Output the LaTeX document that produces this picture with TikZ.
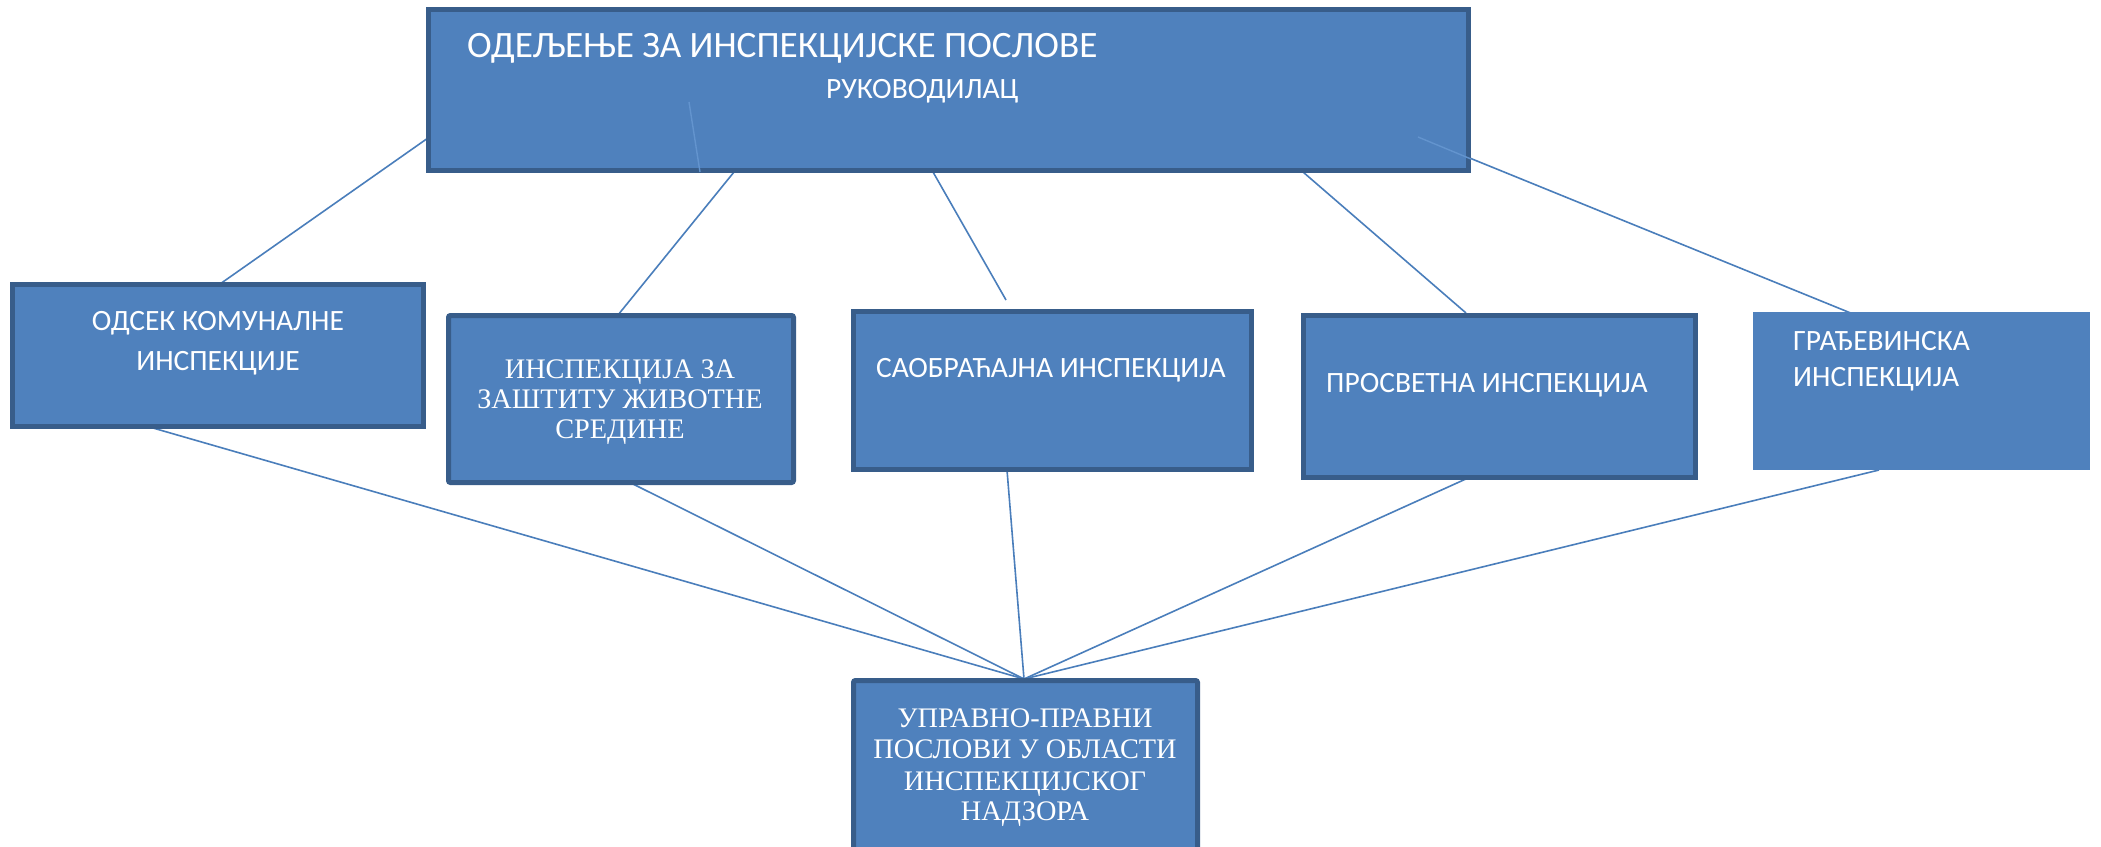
\documentclass[tikz,border=0pt]{standalone}
\usepackage{fontspec}
\setmainfont{Carlito}
\newfontfamily\timesf{Liberation Serif}
\definecolor{boxfill}{HTML}{4F81BD}
\definecolor{boxedge}{HTML}{385D8A}
\definecolor{conn}{HTML}{4A7EBB}
\definecolor{faint}{HTML}{6394CE}
\begin{document}
\begin{tikzpicture}[x=1pt,y=-1pt,
  orgbox/.style={rectangle, fill=boxfill, draw=boxedge, line width=5pt, inner sep=0pt, outer sep=0pt},
  plainbox/.style={rectangle, fill=boxfill, draw=none, inner sep=0pt, outer sep=0pt},
  link/.style={draw=conn, line width=1.6pt},
  ghost/.style={draw=faint, line width=1.4pt},
  lbl/.style={text=white, inner sep=0pt, font=\fontsize{29.5}{31}\selectfont},
  slbl/.style={text=white, inner sep=0pt, font=\timesf\fontsize{28.3}{30}\selectfont}]
\useasboundingbox (0,0) rectangle (2101,846);
\clip (0,0) rectangle (2101,846);
\fill[white] (0,0) rectangle (2101,846);

% connector end points
\coordinate (h1) at (428,138);   \coordinate (t1) at (220,284);
\coordinate (h2) at (734,172);   \coordinate (t2) at (618,315);
\coordinate (h3) at (933,172);   \coordinate (t3) at (1006,300);
\coordinate (h4) at (1303,172);  \coordinate (t4) at (1466,313);
\coordinate (h5) at (1418,137);  \coordinate (t5) at (1858,316);
\coordinate (e5) at (1471,159);
\coordinate (g1) at (689,102);   \coordinate (g2) at (700,172);
\coordinate (u1) at (153,428);
\coordinate (u2) at (631,483);
\coordinate (u3) at (1007,470);
\coordinate (u4) at (1468,478);
\coordinate (u5) at (1879,470);
\coordinate (conv) at (1024,679);

% connectors (drawn beneath the boxes)
\draw[link] (h1) -- (t1);
\draw[link] (h2) -- (t2);
\draw[link] (h3) -- (t3);
\draw[link] (h4) -- (t4);
\draw[link] (h5) -- (t5);
\draw[link] (u1) -- (conv);
\draw[link] (u2) -- (conv);
\draw[link] (u3) -- (conv);
\draw[link] (u4) -- (conv);
\draw[link] (u5) -- (conv);

% boxes
\node[orgbox, minimum width=1040pt, minimum height=161pt] (head) at (948.5,90) {};
\node[orgbox, minimum width=411pt, minimum height=142pt] (b1) at (218,355.5) {};
\node[orgbox, rounded corners=2pt, minimum width=345pt, minimum height=167pt] (b2) at (621,399) {};
\node[orgbox, minimum width=398pt, minimum height=158pt] (b3) at (1052.5,390.5) {};
\node[orgbox, minimum width=392pt, minimum height=162pt] (b4) at (1499.5,396.5) {};
\node[plainbox, minimum width=337pt, minimum height=158pt] (b5) at (1921.5,391) {};
\node[orgbox, rounded corners=2pt, minimum width=344pt, minimum height=187pt] (bot) at (1025.5,774) {};

% faint segments visible inside the head box
\draw[ghost] (g1) -- (g2);
\draw[ghost] (h5) -- (e5);

% texts
\node[text=white, inner sep=0pt, anchor=base west, font=\fontsize{37.2}{40}\selectfont] (tt1) at (467,57) {ОДЕЉЕЊЕ ЗА ИНСПЕКЦИЈСКЕ ПОСЛОВЕ};
\node[text=white, inner sep=0pt, anchor=base west, font=\fontsize{29.5}{32}\selectfont] (tt2) at (826,98) {РУКОВОДИЛАЦ};

\node[lbl, anchor=base] (l1a) at (218,330) {ОДСЕК КОМУНАЛНЕ};
\node[lbl, anchor=base] (l1b) at (218,370) {ИНСПЕКЦИЈЕ};

\node[slbl, anchor=base] (l2a) at (620,378) {ИНСПЕКЦИЈА ЗА};
\node[slbl, anchor=base] (l2b) at (620,408) {ЗАШТИТУ ЖИВОТНЕ};
\node[slbl, anchor=base] (l2c) at (620,438) {СРЕДИНЕ};

\node[lbl, anchor=base west] (l3) at (876,377) {САОБРАЋАЈНА ИНСПЕКЦИЈА};
\node[lbl, anchor=base west] (l4) at (1326,392) {ПРОСВЕТНА ИНСПЕКЦИЈА};

\node[lbl, anchor=base west] (l5a) at (1793,350) {ГРАЂЕВИНСКА};
\node[lbl, anchor=base west] (l5b) at (1793,386) {ИНСПЕКЦИЈА};

\node[slbl, anchor=base] (l6a) at (1025,727) {УПРАВНО-ПРАВНИ};
\node[slbl, anchor=base] (l6b) at (1025,758) {ПОСЛОВИ У ОБЛАСТИ};
\node[slbl, anchor=base] (l6c) at (1025,790) {ИНСПЕКЦИЈСКОГ};
\node[slbl, anchor=base] (l6d) at (1025,820) {НАДЗОРА};
\end{tikzpicture}
\end{document}
